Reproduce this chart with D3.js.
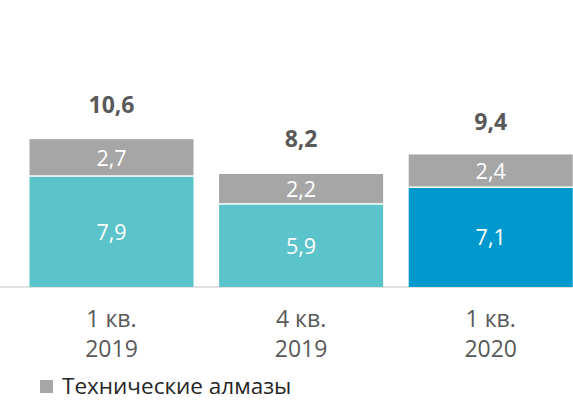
<!DOCTYPE html>
<html>
<head>
<meta charset="utf-8">
<script src="https://cdn.jsdelivr.net/npm/d3@7"></script>
<style>
  body { margin: 0; background: #fff; }
  svg { display: block; font-family: "Open Sans", sans-serif; }
</style>
</head>
<body>
<div id="body"></div>
<script>
// data
const quarters = ["1 кв.", "4 кв.", "1 кв."];
const years = ["2019", "2019", "2020"];
const base = [7.9, 5.9, 7.1];       // lower segment
const technical = [2.7, 2.2, 2.4];  // Технические алмазы
const totals = [10.6, 8.2, 9.4];
const baseColors = ["#5bc4ca", "#5bc4ca", "#0099ce"];
const legendLabels = ["Технические алмазы"];

var width = 573, height = 400;

let svg = d3.select("#body").append("svg")
    .attr("width", width)
    .attr("height", height);

let cats = quarters.map((q, i) => q + " " + years[i]);

let x = d3.scaleBand()
    .domain(cats)
    .range([16.7, 585.5])
    .paddingInner(0.135)
    .paddingOuter(0.0675);

let y = d3.scaleLinear()
    .domain([0, 12])
    .range([287, 287 - 12 * 13.95]);

let cx = d => x(d) + x.bandwidth() / 2;

// axis line
svg.append("line")
    .attr("x1", 0).attr("x2", width)
    .attr("y1", y(0)).attr("y2", y(0))
    .attr("stroke", "#d9d9d9")
    .attr("stroke-width", 1.5);

// lower segment
svg.selectAll("rect.base").data(cats).enter()
    .append("rect")
    .attr("class", "base")
    .attr("x", d => x(d))
    .attr("width", x.bandwidth())
    .attr("y", (d, i) => y(base[i]))
    .attr("height", (d, i) => y(0) - y(base[i]))
    .attr("fill", (d, i) => baseColors[i]);

// technical segment
svg.selectAll("rect.tech").data(cats).enter()
    .append("rect")
    .attr("class", "tech")
    .attr("x", d => x(d))
    .attr("width", x.bandwidth())
    .attr("y", (d, i) => y(base[i] + technical[i]))
    .attr("height", (d, i) => y(base[i]) - y(base[i] + technical[i]) - 1.5)
    .attr("fill", "#a6a6a6");

const fmt = v => String(v).replace(".", ",");

// segment labels
svg.selectAll("text.baseLab").data(cats).enter()
    .append("text")
    .attr("x", cx)
    .attr("y", (d, i) => y(base[i] / 2) + 7.8)
    .attr("text-anchor", "middle")
    .attr("fill", "#fff")
    .style("font-size", "21.5px")
    .text((d, i) => fmt(base[i]));

svg.selectAll("text.techLab").data(cats).enter()
    .append("text")
    .attr("x", cx)
    .attr("y", (d, i) => y(base[i] + technical[i] / 2) + 7.8)
    .attr("text-anchor", "middle")
    .attr("fill", "#fff")
    .style("font-size", "21.5px")
    .text((d, i) => fmt(technical[i]));

// totals
svg.selectAll("text.total").data(cats).enter()
    .append("text")
    .attr("x", cx)
    .attr("y", (d, i) => y(totals[i]) - 26)
    .attr("text-anchor", "middle")
    .attr("fill", "#595959")
    .style("font-size", "23px")
    .style("font-weight", "bold")
    .text((d, i) => fmt(totals[i]));

// category labels (two lines)
svg.selectAll("text.q").data(cats).enter()
    .append("text")
    .attr("x", cx)
    .attr("y", 327)
    .attr("text-anchor", "middle")
    .attr("fill", "#595959")
    .style("font-size", "23px")
    .text((d, i) => quarters[i]);
svg.selectAll("text.yr").data(cats).enter()
    .append("text")
    .attr("x", cx)
    .attr("y", 357)
    .attr("text-anchor", "middle")
    .attr("fill", "#595959")
    .style("font-size", "23px")
    .text((d, i) => years[i]);

// legend
let lg = svg.append("g").attr("transform", "translate(40,380)");
lg.append("rect")
    .attr("width", 13).attr("height", 13)
    .attr("fill", "#a6a6a6");
lg.append("text")
    .attr("x", 22).attr("y", 14)
    .attr("fill", "#262626")
    .style("font-size", "22.5px")
    .text(legendLabels[0]);
</script>
</body>
</html>
